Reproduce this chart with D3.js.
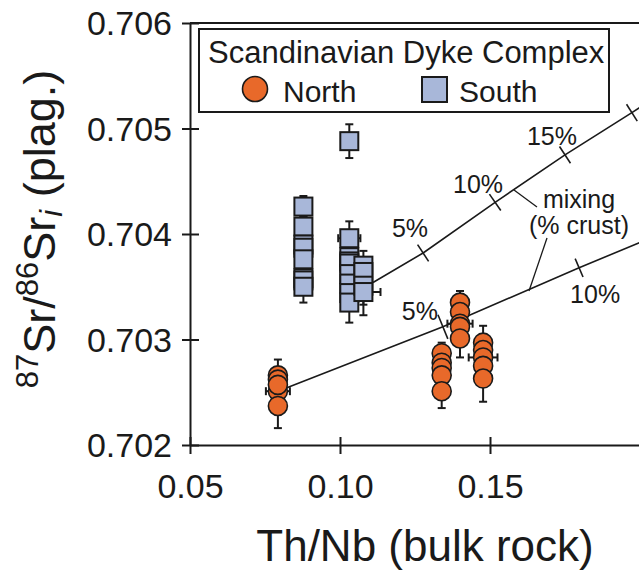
<!DOCTYPE html>
<html>
<head>
<meta charset="utf-8">
<script src="https://cdn.jsdelivr.net/npm/d3@7/dist/d3.min.js"></script>
<style>
  body { margin: 0; background: #fff; }
  svg { display: block; font-family: "Liberation Sans", Arial, sans-serif; }
</style>
</head>
<body>
<svg id="chart" width="639" height="573"></svg>
<script>
// Axis ticks
const xTicks = [0.05, 0.10, 0.15];
const yTicks = [0.702, 0.703, 0.704, 0.705, 0.706];

// North dykes: [Th/Nb, 87Sr/86Sr, yErr, xErr]
const northPoints = [
  [0.0793, 0.70251, 0.00010, 0.0040],
  [0.0793, 0.70266, 0.00015, 0],
  [0.0793, 0.70262, 0.00010, 0],
  [0.0793, 0.70257, 0.00010, 0],
  [0.0793, 0.70237, 0.00021, 0],
  [0.1339, 0.70287, 0.00010, 0],
  [0.1339, 0.70278, 0.00010, 0],
  [0.1339, 0.70273, 0.00010, 0],
  [0.1339, 0.70266, 0.00010, 0],
  [0.1339, 0.70251, 0.00016, 0],
  [0.1400, 0.70335, 0.00011, 0],
  [0.1400, 0.70326, 0.00010, 0],
  [0.1400, 0.70315, 0.00010, 0.0042],
  [0.1400, 0.70312, 0.00010, 0],
  [0.1400, 0.70301, 0.00018, 0],
  [0.1477, 0.70297, 0.00016, 0],
  [0.1477, 0.70290, 0.00010, 0],
  [0.1477, 0.70283, 0.00010, 0.0048],
  [0.1477, 0.70275, 0.00010, 0],
  [0.1477, 0.70263, 0.00022, 0],
];

// South dykes: [Th/Nb, 87Sr/86Sr, yErr, xErr]
const southPoints = [
  [0.0878, 0.70426, 0.00010, 0],
  [0.0878, 0.70407, 0.00010, 0],
  [0.0878, 0.70390, 0.00010, 0],
  [0.0878, 0.70387, 0.00010, 0],
  [0.0878, 0.70376, 0.00010, 0],
  [0.0878, 0.70358, 0.00010, 0],
  [0.0878, 0.70356, 0.00010, 0],
  [0.0878, 0.70350, 0.00015, 0],
  [0.1031, 0.70488, 0.00016, 0],
  [0.1031, 0.70396, 0.00016, 0.0037],
  [0.1031, 0.70378, 0.00010, 0],
  [0.1031, 0.70374, 0.00010, 0],
  [0.1031, 0.70372, 0.00010, 0],
  [0.1031, 0.70362, 0.00010, 0],
  [0.1031, 0.70353, 0.00010, 0],
  [0.1031, 0.70344, 0.00010, 0],
  [0.1031, 0.70335, 0.00019, 0],
  [0.1078, 0.70370, 0.00014, 0],
  [0.1078, 0.70364, 0.00010, 0],
  [0.1078, 0.70351, 0.00018, 0],
  [0.1078, 0.70345, 0.00022, 0.0057],
];

// Mixing curves: [Th/Nb, 87Sr/86Sr, % crust] (null = no tick)
const mixSouth = [
  [0.1110, 0.70354, null],
  [0.1277, 0.70382, 5],
  [0.1517, 0.70430, 10],
  [0.1750, 0.70475, 15],
  [0.1973, 0.70515, 20],
  [0.2000, 0.70520, null],
];
const mixNorth = [
  [0.0793, 0.70251, null],
  [0.1343, 0.70312, 5],
  [0.1797, 0.70368, 10],
  [0.2000, 0.70392, null],
];

const orange = '#e8692a';
const blue = '#a8b7d9';
const ink = '#1a1a1a';

const svg = d3.select('#chart');

const x = d3.scaleLinear().domain([0.05, 0.20]).range([190, 640]);
const y = d3.scaleLinear().domain([0.702, 0.706]).range([445, 23]);

// Axes
const yAxis = svg.append('g')
  .attr('transform', `translate(${x(0.05)},0)`)
  .call(d3.axisLeft(y).tickValues(yTicks).tickFormat(d3.format('.3f'))
    .tickSizeInner(8).tickSizeOuter(0).tickPadding(10));
yAxis.selectAll('.tick line').attr('x1', 9);
const xAxis = svg.append('g')
  .attr('transform', `translate(0,${y(0.702)})`)
  .call(d3.axisBottom(x).tickValues(xTicks).tickFormat(d3.format('.2f'))
    .tickSizeInner(9).tickSizeOuter(0).tickPadding(20));
xAxis.selectAll('.tick line').attr('y1', -8);
[yAxis, xAxis].forEach((g) => {
  g.selectAll('path, line').attr('stroke', ink).attr('stroke-width', 2);
  g.selectAll('text').attr('font-size', 34).attr('fill', ink)
    .attr('font-family', '"Liberation Sans", Arial, sans-serif');
});
xAxis.selectAll('text').attr('dy', '0.7em');
yAxis.selectAll('text').attr('dy', '0.34em');

// Top frame line
svg.append('line')
  .attr('x1', x(0.05)).attr('x2', x(0.20))
  .attr('y1', y(0.706)).attr('y2', y(0.706))
  .attr('stroke', ink).attr('stroke-width', 2);

// Axis titles
svg.append('text')
  .attr('x', 425).attr('y', 561)
  .attr('text-anchor', 'middle')
  .attr('font-size', 44).attr('fill', ink)
  .text('Th/Nb (bulk rock)');

const yTitle = svg.append('text')
  .attr('transform', 'translate(55,229) rotate(-90)')
  .attr('text-anchor', 'middle')
  .attr('font-size', 45).attr('fill', ink);
yTitle.append('tspan').attr('font-size', 31).attr('dy', -17).text('87');
yTitle.append('tspan').attr('dy', 17).text('Sr/');
yTitle.append('tspan').attr('font-size', 31).attr('dy', -17).text('86');
yTitle.append('tspan').attr('dy', 17).text('Sr');
yTitle.append('tspan').attr('font-size', 31).attr('font-style', 'italic').attr('dy', 7).text('i');
yTitle.append('tspan').attr('dy', -7).text(' (plag.)');

// Mixing lines
const line = d3.line().x((d) => x(d[0])).y((d) => y(d[1]));
const mixLayer = svg.append('g');
[mixSouth, mixNorth].forEach((curve) => {
  mixLayer.append('path')
    .attr('d', line(curve))
    .attr('fill', 'none').attr('stroke', ink).attr('stroke-width', 1.6);
  curve.forEach((d, i) => {
    if (d[2] === null) return;
    const a = curve[Math.max(0, i - 1)];
    const b = curve[Math.min(curve.length - 1, i + 1)];
    const dx = x(b[0]) - x(a[0]);
    const dy = y(b[1]) - y(a[1]);
    const len = Math.hypot(dx, dy);
    const half = (curve === mixNorth && d[2] === 5) ? 13 : 10;
    const nx = -dy / len * half;
    const ny = dx / len * half;
    mixLayer.append('line')
      .attr('x1', x(d[0]) - nx).attr('y1', y(d[1]) - ny)
      .attr('x2', x(d[0]) + nx).attr('y2', y(d[1]) + ny)
      .attr('stroke', ink).attr('stroke-width', 1.6);
  });
});

// Percent labels (offset from tick position)
const pctLabels = [
  {curve: mixSouth, pct: 5, dx: 5, dy: -16, anchor: 'end'},
  {curve: mixSouth, pct: 10, dx: 8, dy: -9, anchor: 'end'},
  {curve: mixSouth, pct: 15, dx: 12, dy: -10, anchor: 'end'},
  {curve: mixNorth, pct: 5, dx: -5, dy: -7, anchor: 'end'},
  {curve: mixNorth, pct: 10, dx: -9, dy: 35, anchor: 'start'},
];
pctLabels.forEach((l) => {
  const d = l.curve.find((c) => c[2] === l.pct);
  svg.append('text')
    .attr('x', x(d[0]) + l.dx).attr('y', y(d[1]) + l.dy)
    .attr('text-anchor', l.anchor)
    .attr('font-size', 25).attr('fill', ink)
    .text(`${l.pct}%`);
});

// "mixing (% crust)" note with leaders
svg.append('text').attr('x', 579).attr('y', 208).attr('text-anchor', 'middle')
  .attr('font-size', 25).attr('fill', ink).text('mixing');
svg.append('text').attr('x', 579).attr('y', 234).attr('text-anchor', 'middle')
  .attr('font-size', 25).attr('fill', ink).text('(% crust)');
svg.append('line').attr('x1', 514).attr('y1', 190).attr('x2', 537).attr('y2', 207)
  .attr('stroke', ink).attr('stroke-width', 1.3);
svg.append('line').attr('x1', 547).attr('y1', 238).attr('x2', 529).attr('y2', 291)
  .attr('stroke', ink).attr('stroke-width', 1.3);

// Error bars
const errLayer = svg.append('g').attr('stroke', ink).attr('stroke-width', 2);
const cap = 4;
northPoints.concat(southPoints).forEach((d) => {
  const cx = x(d[0]);
  const cy = y(d[1]);
  const top = y(d[1] + d[2]);
  const bot = y(d[1] - d[2]);
  errLayer.append('line').attr('x1', cx).attr('x2', cx).attr('y1', top).attr('y2', bot);
  errLayer.append('line').attr('x1', cx - cap).attr('x2', cx + cap).attr('y1', top).attr('y2', top);
  errLayer.append('line').attr('x1', cx - cap).attr('x2', cx + cap).attr('y1', bot).attr('y2', bot);
  if (d[3] > 0) {
    const l = x(d[0] - d[3]);
    const r = x(d[0] + d[3]);
    errLayer.append('line').attr('x1', l).attr('x2', r).attr('y1', cy).attr('y2', cy);
    errLayer.append('line').attr('x1', l).attr('x2', l).attr('y1', cy - cap).attr('y2', cy + cap);
    errLayer.append('line').attr('x1', r).attr('x2', r).attr('y1', cy - cap).attr('y2', cy + cap);
  }
});

// Markers
const sq = 18;
svg.append('g').selectAll('rect')
  .data(southPoints)
  .join('rect')
  .attr('x', (d) => x(d[0]) - sq / 2)
  .attr('y', (d) => y(d[1]) - sq / 2)
  .attr('width', sq).attr('height', sq)
  .attr('fill', blue).attr('stroke', ink).attr('stroke-width', 2);

svg.append('g').selectAll('circle')
  .data(northPoints)
  .join('circle')
  .attr('cx', (d) => x(d[0]))
  .attr('cy', (d) => y(d[1]))
  .attr('r', 9.5)
  .attr('fill', orange).attr('stroke', ink).attr('stroke-width', 1.6);

// Legend
const legend = svg.append('g');
legend.append('rect')
  .attr('x', 199).attr('y', 29).attr('width', 410).attr('height', 83)
  .attr('fill', '#fff').attr('stroke', ink).attr('stroke-width', 2);
legend.append('text').attr('x', 208).attr('y', 63)
  .attr('font-size', 31).attr('fill', ink).text('Scandinavian Dyke Complex');
legend.append('circle').attr('cx', 255).attr('cy', 89).attr('r', 12.5)
  .attr('fill', orange).attr('stroke', ink).attr('stroke-width', 1.6);
legend.append('text').attr('x', 283).attr('y', 102)
  .attr('font-size', 30).attr('fill', ink).text('North');
legend.append('rect').attr('x', 422).attr('y', 77).attr('width', 25).attr('height', 25)
  .attr('fill', blue).attr('stroke', ink).attr('stroke-width', 2);
legend.append('text').attr('x', 459).attr('y', 102)
  .attr('font-size', 30).attr('fill', ink).text('South');
</script>
</body>
</html>
